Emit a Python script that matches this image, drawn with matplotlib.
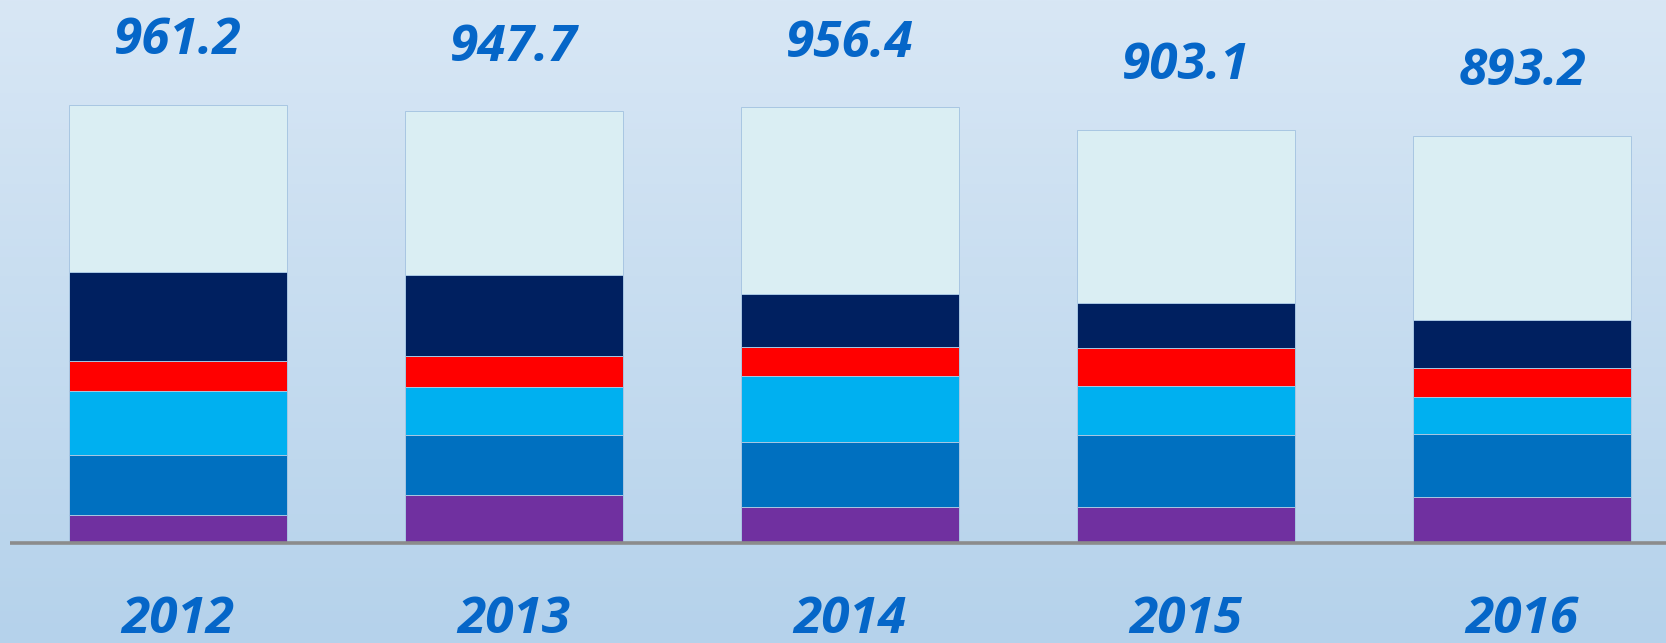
import numpy as np
import matplotlib
matplotlib.use("Agg")
import matplotlib.pyplot as plt
from matplotlib.colors import LinearSegmentedColormap

# ---- data ----
years = ["2012", "2013", "2014", "2015", "2016"]
totals = [961.2, 947.7, 956.4, 903.1, 893.2]
# stacked segments, bottom to top
seg_purple = [61.5, 105.1, 79.0, 79.0, 102.5]
seg_blue = [131.7, 133.2, 142.2, 158.0, 136.9]
seg_cyan = [140.4, 103.6, 145.9, 108.2, 81.2]
seg_red = [65.8, 69.1, 63.8, 84.3, 64.7]
seg_navy = [195.3, 178.4, 116.1, 98.5, 103.6]
seg_light = [366.5, 358.3, 409.4, 378.9, 404.3]

segments = [seg_purple, seg_blue, seg_cyan, seg_red, seg_navy, seg_light]
colors = ["#7030A0", "#0070C0", "#00B0F0", "#FF0000", "#002060", "#DAEEF3"]

text_color = "#0566C8"
font_family = ["Open Sans", "DejaVu Sans"]

fig = plt.figure(figsize=(16.66, 6.43), dpi=100)
ax = fig.add_axes([0, 0, 1, 1])

# axes limits derived from the layout of the reference
xlim = (-0.5298, 4.4286)
ylim = (-218.7, 1192.0)
ax.set_xlim(*xlim)
ax.set_ylim(*ylim)

# gradient background (light at the top, deeper blue at the bottom)
grad = np.linspace(0, 1, 256).reshape(-1, 1)
cmap = LinearSegmentedColormap.from_list("bg", ["#B5D2EB", "#D8E7F5"])
ax.imshow(grad, aspect="auto", cmap=cmap, extent=(xlim[0], xlim[1], ylim[0], ylim[1]),
          origin="lower", zorder=0)

x = np.arange(len(years))
bottom = np.zeros(len(years))
for vals, c in zip(segments, colors):
    ax.bar(x, vals, bottom=bottom, width=0.646, color=c, edgecolor="#A8C6E2",
           linewidth=0.7, zorder=2)
    bottom += np.array(vals)

# baseline
ax.plot([-0.5, xlim[1]], [0, 0], color="#8C8C8C", linewidth=2.6, zorder=3,
        solid_capstyle="butt")

for xi, top, t in zip(x, bottom, totals):
    ax.text(xi, top + 140, f"{t:.1f}", ha="center", va="center", color=text_color,
            fontsize=37, fontweight="bold", fontstyle="italic", family=font_family, zorder=4)

for xi, y in zip(x, years):
    ax.text(xi, -196, y, ha="center", va="baseline", color=text_color,
            fontsize=37, fontweight="bold", fontstyle="italic", family=font_family, zorder=4)

ax.axis("off")
fig.savefig("out.png", dpi=100)
